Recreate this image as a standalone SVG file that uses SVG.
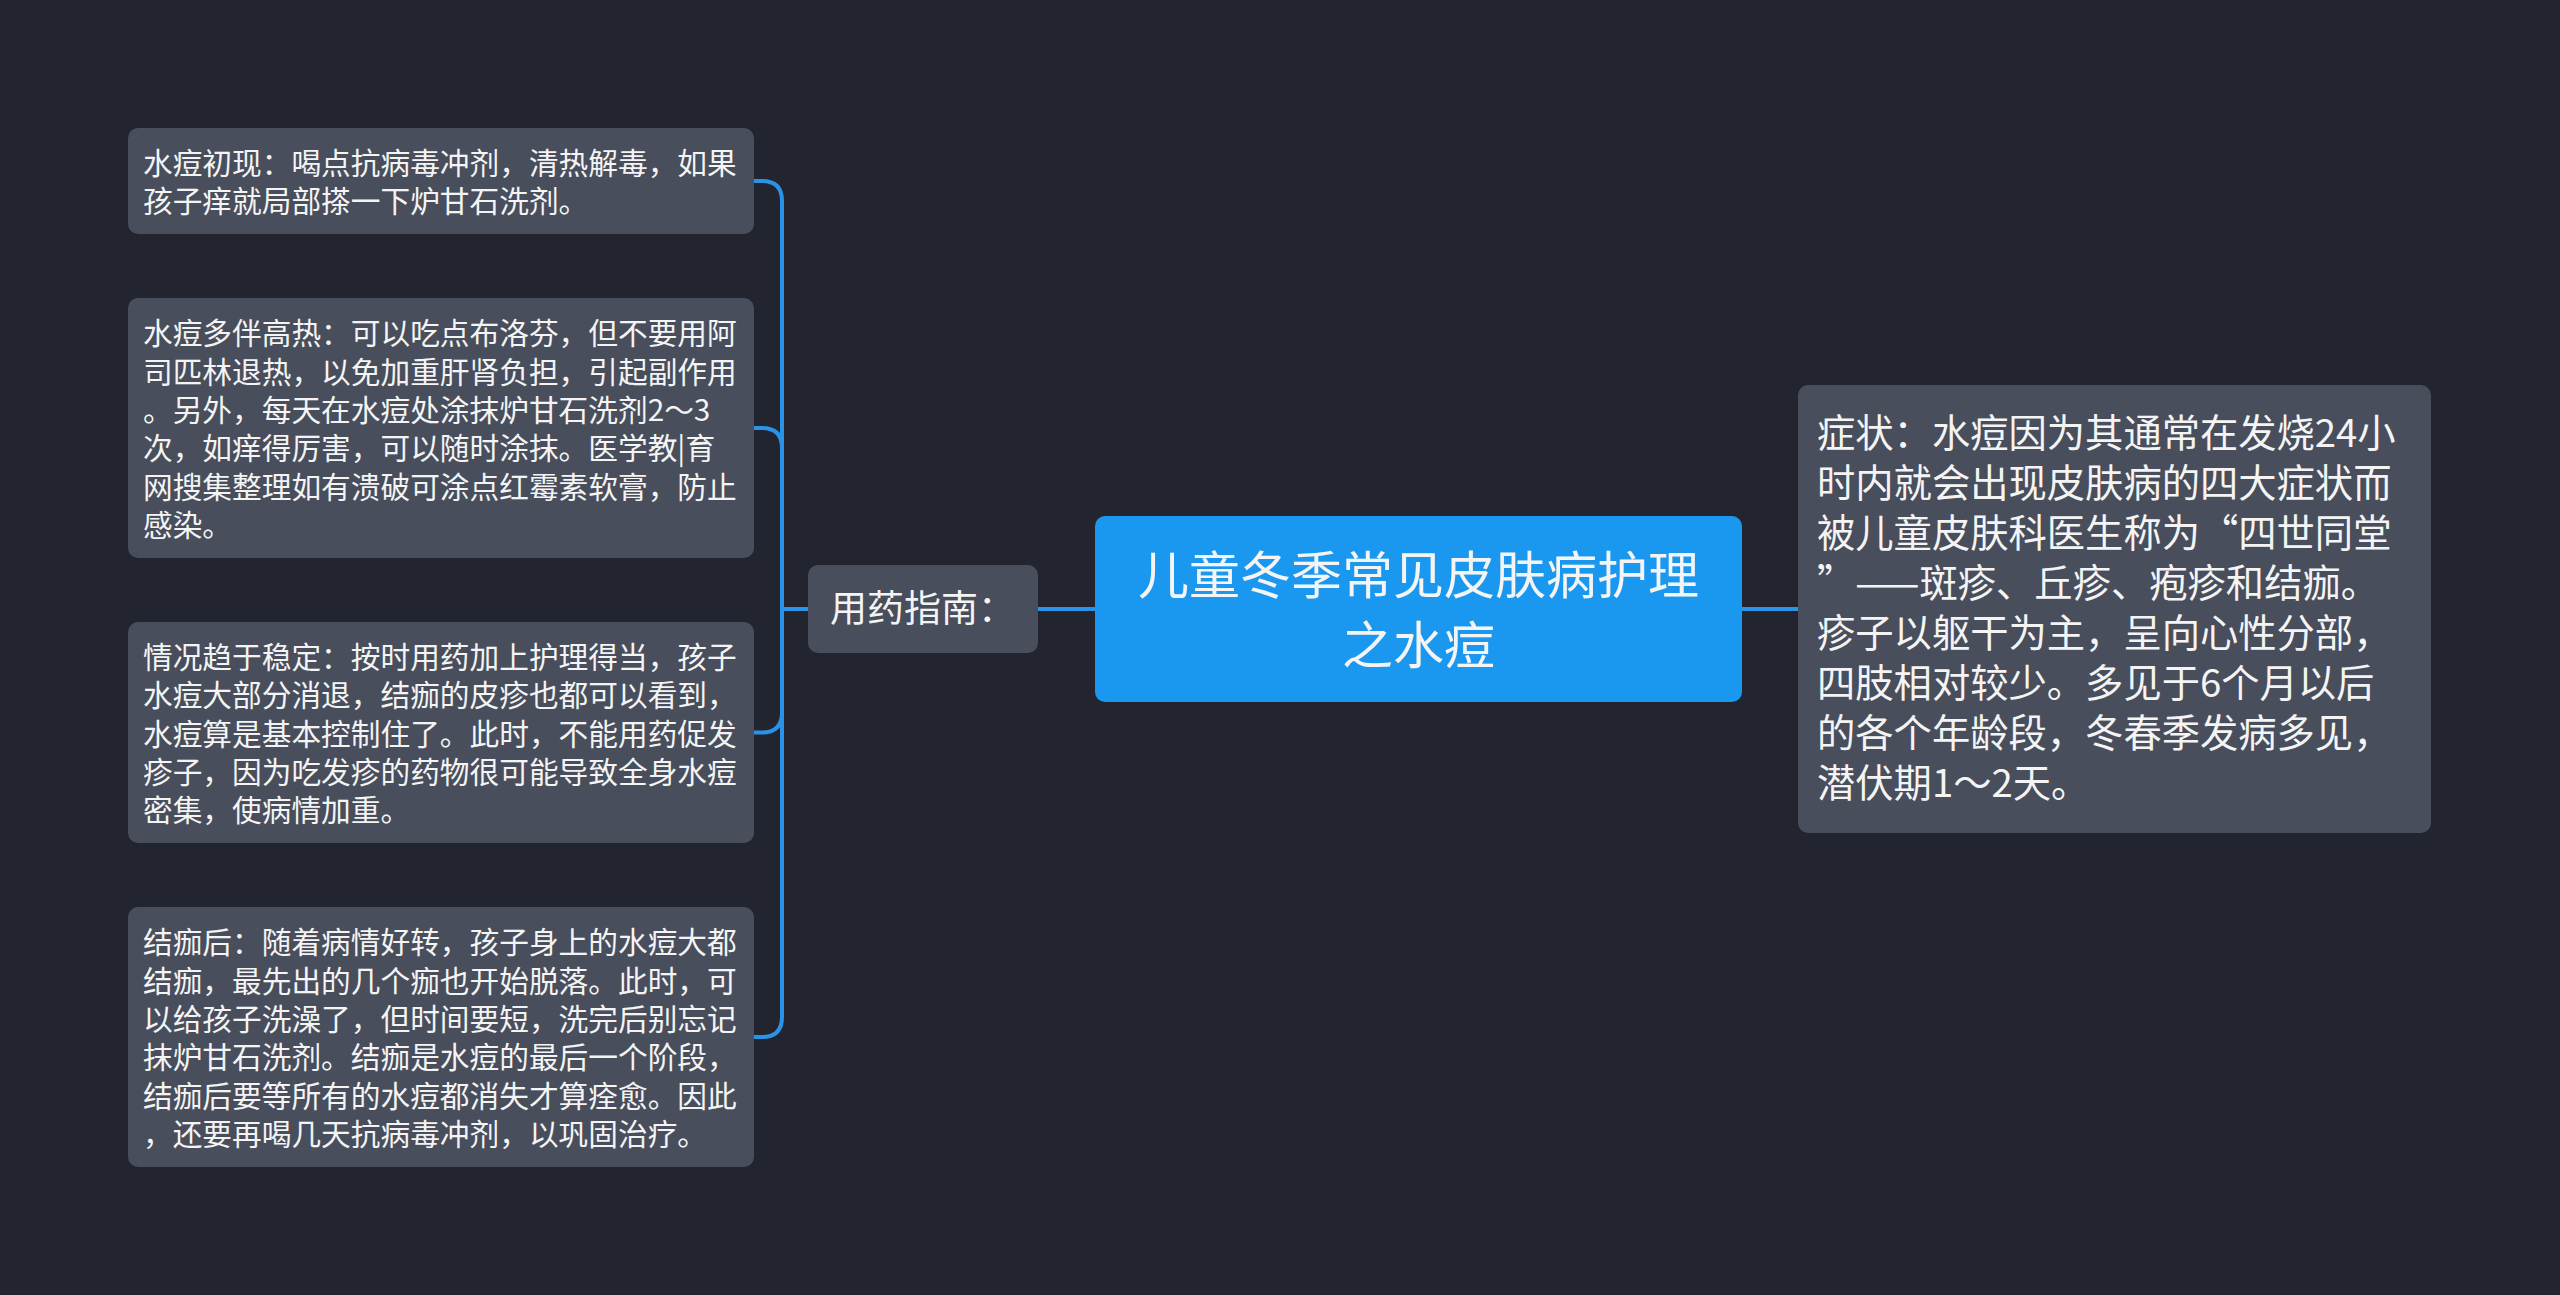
<svg xmlns="http://www.w3.org/2000/svg" width="2560" height="1295" viewBox="0 0 2560 1295">
<style>
.bg{fill:#22252f}
.leaf{fill:#484e5c}
.root{fill:#1a98f0}
.t{font-family:"Noto Sans CJK SC","Liberation Sans",sans-serif;fill:#f4f4f4}
.lt{font-size:29.7px}
.rt{font-size:38.3px}
.conn{fill:none;stroke:#2a93e8;stroke-width:4;stroke-linecap:round;stroke-linejoin:round}
</style>
<rect class="bg" x="0" y="0" width="2560" height="1295"/>
<g id="connectors">
<path class="conn" d="M808,609 H782 V201 Q782,181 762,181 H754"/>
<path class="conn" d="M808,609 H782 V448 Q782,428 762,428 H754"/>
<path class="conn" d="M808,609 H782 V712.5 Q782,732.5 762,732.5 H754"/>
<path class="conn" d="M808,609 H782 V1017 Q782,1037 762,1037 H754"/>
<path class="conn" d="M1095,609 H1038"/>
<path class="conn" d="M1742,609 H1798"/>
</g>
<g id="root">
<rect class="root" x="1095" y="516" width="647" height="186" rx="10"/>
<text class="t" x="1418.5" y="594" font-size="51" text-anchor="middle">儿童冬季常见皮肤病护理</text>
<text class="t" x="1418.5" y="664" font-size="51" text-anchor="middle">之水痘</text>
</g>
<g id="guide">
<rect class="leaf" x="808" y="565" width="230" height="88" rx="10"/>
<text class="t" x="830" y="622" font-size="37">用药指南：</text>
</g>
<g id="leaf1">
<rect class="leaf" x="128" y="128" width="626" height="106" rx="10"/>
<text class="t lt" x="143" y="174">水痘初现：喝点抗病毒冲剂，清热解毒，如果</text>
<text class="t lt" x="143" y="212">孩子痒就局部搽一下炉甘石洗剂。</text>
</g>
<g id="leaf2">
<rect class="leaf" x="128" y="298" width="626" height="260" rx="10"/>
<text class="t lt" x="143" y="344">水痘多伴高热：可以吃点布洛芬，但不要用阿</text>
<text class="t lt" x="143" y="382.5">司匹林退热，以免加重肝肾负担，引起副作用</text>
<text class="t lt" x="143" y="421">。另外，每天在水痘处涂抹炉甘石洗剂2～3</text>
<text class="t lt" x="143" y="459">次，如痒得厉害，可以随时涂抹。医学教|育</text>
<text class="t lt" x="143" y="497.5">网搜集整理如有溃破可涂点红霉素软膏，防止</text>
<text class="t lt" x="143" y="536">感染。</text>
</g>
<g id="leaf3">
<rect class="leaf" x="128" y="622" width="626" height="221" rx="10"/>
<text class="t lt" x="143" y="668">情况趋于稳定：按时用药加上护理得当，孩子</text>
<text class="t lt" x="143" y="706">水痘大部分消退，结痂的皮疹也都可以看到，</text>
<text class="t lt" x="143" y="744.5">水痘算是基本控制住了。此时，不能用药促发</text>
<text class="t lt" x="143" y="783">疹子，因为吃发疹的药物很可能导致全身水痘</text>
<text class="t lt" x="143" y="821">密集，使病情加重。</text>
</g>
<g id="leaf4">
<rect class="leaf" x="128" y="907" width="626" height="260" rx="10"/>
<text class="t lt" x="143" y="953">结痂后：随着病情好转，孩子身上的水痘大都</text>
<text class="t lt" x="143" y="991.5">结痂，最先出的几个痂也开始脱落。此时，可</text>
<text class="t lt" x="143" y="1030">以给孩子洗澡了，但时间要短，洗完后别忘记</text>
<text class="t lt" x="143" y="1068">抹炉甘石洗剂。结痂是水痘的最后一个阶段，</text>
<text class="t lt" x="143" y="1106.5">结痂后要等所有的水痘都消失才算痊愈。因此</text>
<text class="t lt" x="143" y="1145">，还要再喝几天抗病毒冲剂，以巩固治疗。</text>
</g>
<g id="symptom">
<rect class="leaf" x="1798" y="385" width="633" height="448" rx="10"/>
<text class="t rt" x="1817" y="447">症状：水痘因为其通常在发烧24小</text>
<text class="t rt" x="1817" y="497">时内就会出现皮肤病的四大症状而</text>
<text class="t rt" x="1817" y="547">被儿童皮肤科医生称为“四世同堂</text>
<text class="t rt" x="1817" y="597">”——斑疹、丘疹、疱疹和结痂。</text>
<text class="t rt" x="1817" y="647">疹子以躯干为主，呈向心性分部，</text>
<text class="t rt" x="1817" y="697">四肢相对较少。多见于6个月以后</text>
<text class="t rt" x="1817" y="747">的各个年龄段，冬春季发病多见，</text>
<text class="t rt" x="1817" y="797">潜伏期1～2天。</text>
</g>
</svg>
